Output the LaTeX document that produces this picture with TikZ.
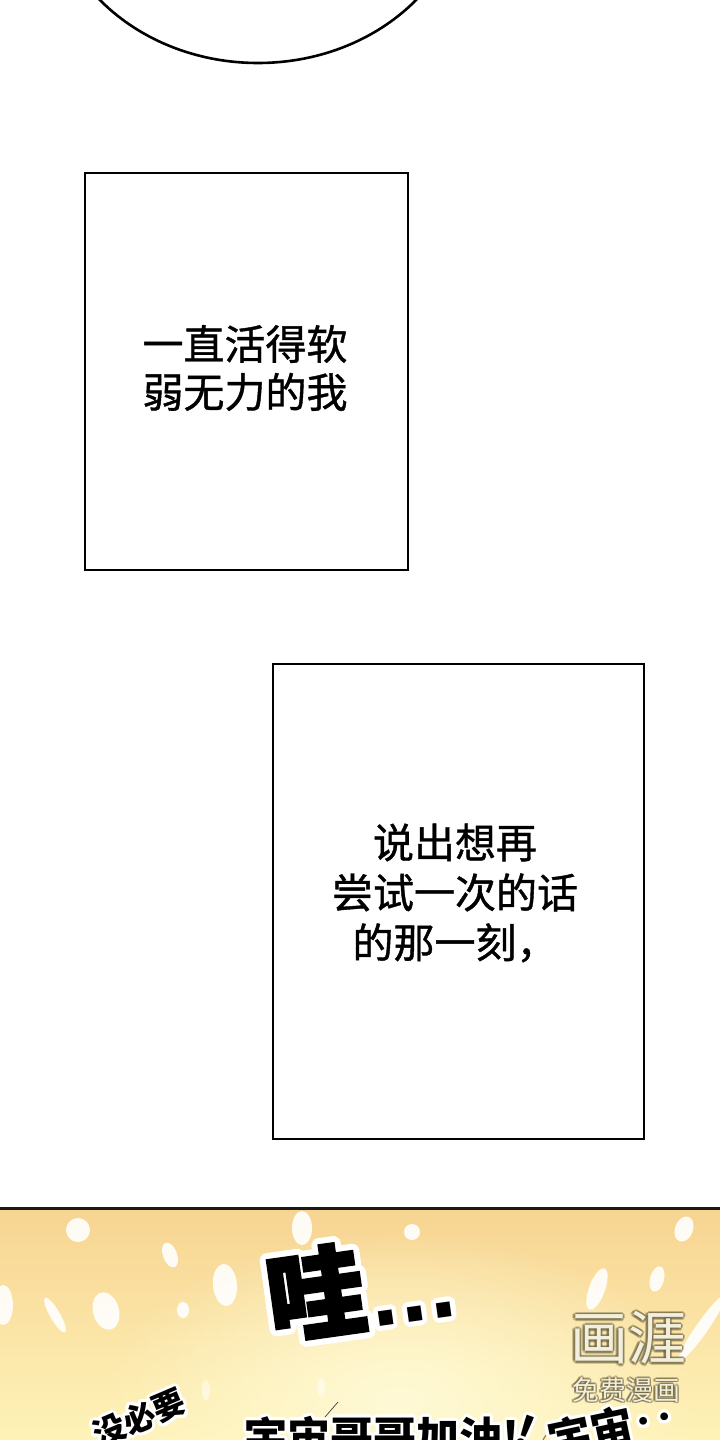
\documentclass[tikz,border=0pt]{standalone}
\usepackage{fontspec}
\newfontfamily\cjk{Noto Sans CJK SC}
\newfontfamily\cjkmid{Noto Sans CJK SC}[FakeBold=1]
\newfontfamily\cjkheavy{Noto Sans CJK SC}[BoldFeatures={FakeBold=2.5}]
\newfontfamily\dotsfont{DejaVu Sans}
\usetikzlibrary{fadings}

\definecolor{panelTop}{RGB}{247,212,146}
\definecolor{panelBottom}{RGB}{254,243,184}
\definecolor{glowYellow}{RGB}{255,250,214}
\definecolor{markCream}{RGB}{243,239,222}
\definecolor{markShadow}{RGB}{105,95,60}
\definecolor{hairBrown}{RGB}{170,120,80}

\tikzfading[name=glowfade, inner color=transparent!0, outer color=transparent!100]

\tikzset{
    caption/.style={font=\cjkmid\fontsize{41}{#1}\selectfont, align=center, inner sep=0pt},
    shout/.style={inner sep=0pt},
    sparkle/.style={white, opacity=.9},
    watermark/.style={inner sep=0pt, text=markCream},
}

% white halo round a text: name, position, rotation, font, halo width, text
\newcommand{\halo}[6]{%
    \foreach \a in {0,22.5,...,337.5}
        \node[shout, font=#4, text=white, rotate=#3, shift={(\a:#5)}] at (#2) {#6};
    \node[shout, font=#4, rotate=#3] (#1) at (#2) {#6};
}

\begin{document}
\begin{tikzpicture}[x=1pt, y=-1pt]
                \useasboundingbox (0,0) rectangle (720,1440);
                \clip (0,0) rectangle (720,1440);
                \fill[white] (0,0) rectangle (720,1440);

                % speech bubble cut by the top edge
                \draw[line width=2.6] (258,-117) ellipse (208 and 180);

                % caption boxes
                \draw[line width=2.2] (85,173) rectangle (408,570);
                \node[caption=48] (weak) at (245,368) {一直活得软\\弱无力的我};

                \draw[line width=2.2] (273,664) rectangle (644,1139);
                \node[caption=50] (moment) at (455,893) {说出想再\\尝试一次的话\\的那一刻，};

                % bottom panel
                \shade[top color=panelTop, bottom color=panelBottom] (0,1209) rectangle (720,1440);
                \fill[glowYellow, path fading=glowfade] (400,1400) ellipse (300 and 170);
                \draw[line width=3, black!90] (0,1208) -- (720,1208);

                \fill[sparkle] (78,1230) circle (12);
                \fill[sparkle, rotate around={20:(170,1255)}] (170,1255) ellipse (7 and 13);
                \fill[sparkle, rotate around={5:(225,1285)}] (225,1285) ellipse (12 and 21);
                \fill[sparkle] (302,1228) ellipse (10 and 17);
                \fill[sparkle] (3,1305) ellipse (10 and 20);
                \fill[sparkle, rotate around={30:(55,1315)}] (55,1315) ellipse (5 and 20);
                \fill[sparkle, rotate around={15:(106,1311)}] (106,1311) ellipse (13 and 19);
                \fill[sparkle] (183,1310) ellipse (6 and 8);
                \fill[sparkle] (412,1232) circle (8);
                \fill[sparkle, rotate around={-20:(684,1229)}] (684,1229) ellipse (9 and 13);
                \fill[sparkle, rotate around={-15:(657,1279)}] (657,1279) ellipse (7 and 13);
                \fill[sparkle, rotate around={-20:(597,1289)}] (597,1289) ellipse (8 and 22);
                \fill[sparkle, rotate around={-35:(702,1328)}] (702,1328) ellipse (6 and 40);
                \fill[white, opacity=.5] (206,1390) ellipse (4 and 10);
                \fill[white, opacity=.5] (321,1387) ellipse (4 and 9);

                \halo{wow}{316,1292}{8}{\cjkheavy\bfseries\fontsize{100}{100}\selectfont}{6}{哇}
                \halo{wowdots}{415,1314}{8}{\dotsfont\bfseries\fontsize{78}{78}\selectfont}{5}{...}

                \halo{nope}{139,1418}{23}{\cjk\bfseries\fontsize{32}{32}\selectfont}{3}{没必要}
                \draw[line width=.7, black!75] (338,1402) -- (312,1432);
                \halo{cheer}{382,1437}{0}{\cjk\bfseries\fontsize{43}{43}\selectfont}{3}{宇宙哥哥加油!}
                \halo{bang}{525,1432}{-20}{\cjk\bfseries\fontsize{43}{43}\selectfont}{3}{!}
                \draw[line width=1.2, hairBrown] (543,1440) .. controls (548,1430) and (556,1427) .. (566,1428);
                \halo{cosmos}{612,1428}{12}{\cjk\bfseries\fontsize{43}{43}\selectfont}{3}{宇宙‥}

                % watermark
                \foreach \a in {0,45,...,315}
                    \node[watermark, text=markShadow, opacity=.4, shift={(\a:2.5)}, font=\cjk\fontsize{58}{58}\selectfont] at (628,1338) {画涯};
                \node[watermark, font=\cjk\fontsize{58}{58}\selectfont] (brand) at (628,1338) {画涯};
                \foreach \a in {0,45,...,315}
                    \node[watermark, text=markShadow, opacity=.4, shift={(\a:1.5)}, font=\cjk\fontsize{27}{27}\selectfont] at (626,1390) {免费漫画};
                \node[watermark, font=\cjk\fontsize{27}{27}\selectfont] (free) at (626,1390) {免费漫画};
\end{tikzpicture}
\end{document}
